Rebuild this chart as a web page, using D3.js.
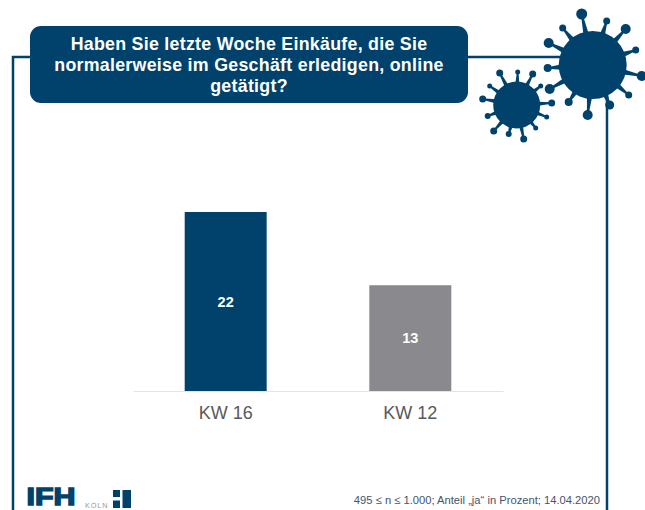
<!DOCTYPE html>
<html>
<head>
<meta charset="utf-8">
<script src="https://cdn.jsdelivr.net/npm/d3@7"></script>
<style>
  html, body { margin: 0; padding: 0; background: #fff; }
  svg { display: block; font-family: "Liberation Sans", Arial, sans-serif; }
</style>
</head>
<body>
<div id="chart"></div>
<script>
// chart values
var weeks = ["KW 16", "KW 12"];
var shares = [22, 13];
var barColors = ["#00426b", "#8a8a8e"];
var titleLines = [
  "Haben Sie letzte Woche Einkäufe, die Sie",
  "normalerweise im Geschäft erledigen, online",
  "getätigt?"
];
var footnote = "495 ≤ n ≤ 1.000; Anteil „ja“ in Prozent; 14.04.2020";

// virus spikes: dx, dy, blob radius
var bigSpikes = [[-11,-51,5.5],[14,-44,3.5],[33,-36,5],[43,-15,3.5],[49,11,5],[36,30,3.5],[17,40,4.5],
  [-5,50,5],[-24,37,4],[-43,24,5],[-45,3,4],[-44,-22,5],[-30,-37,3.5]];
var smallSpikes = [[-17,-32,3.5],[1,-33,2.5],[16,-31,3.5],[24,-19,2.5],[35,-2,3.5],[30,12,2.5],[19,23,2.5],
  [7,34,3.5],[-8,29,3],[-23,26,3.5],[-29,11,3],[-34,-6,3.5],[-27,-19,2.5]];

var svgWidth = 645;
var svgHeight = 510;
var navy = "#00426b";

var svg = d3.select("#chart")
  .append("svg")
  .attr("width", svgWidth)
  .attr("height", svgHeight);

// frame around the slide
svg.append("path")
  .attr("d", "M13,510V57H40M460,57H570M607,95V510")
  .attr("fill", "none")
  .attr("stroke", navy)
  .attr("stroke-width", 2.5);

// title box
svg.append("rect")
  .attr("x", 30)
  .attr("y", 26)
  .attr("width", 438)
  .attr("height", 77)
  .attr("rx", 11)
  .attr("fill", navy);

svg.selectAll(".title")
  .data(titleLines)
  .enter()
  .append("text")
  .attr("class", "title")
  .attr("x", 249)
  .attr("y", (d, i) => 50 + i * 21)
  .attr("text-anchor", "middle")
  .attr("fill", "#fff")
  .attr("font-weight", "bold")
  .attr("font-size", 17.8)
  .attr("letter-spacing", 0.28)
  .text(d => d);

// tapered spike from the body out to its tip
function spikePath(d, r, baseWidth) {
  var len = Math.hypot(d[0], d[1]);
  var ux = d[0] / len;
  var uy = d[1] / len;
  var bx = ux * (r - 2);
  var by = uy * (r - 2);
  return `M${bx - uy * baseWidth},${by + ux * baseWidth}` +
    `L${d[0] - uy * 0.8},${d[1] + ux * 0.8}` +
    `L${d[0] + uy * 0.8},${d[1] - ux * 0.8}` +
    `L${bx + uy * baseWidth},${by - ux * baseWidth}Z`;
}

// viruses
function drawVirus(cx, cy, r, spikes, baseWidth) {
  var g = svg.append("g").attr("transform", `translate(${cx}, ${cy})`).attr("fill", navy);
  g.selectAll("path")
    .data(spikes)
    .enter()
    .append("path")
    .attr("d", d => spikePath(d, r, baseWidth));
  g.selectAll(".blob")
    .data(spikes)
    .enter()
    .append("circle")
    .attr("class", "blob")
    .attr("cx", d => d[0])
    .attr("cy", d => d[1])
    .attr("r", d => d[2]);
  g.append("circle").attr("r", r);
}
drawVirus(592.7, 65, 34, bigSpikes, 2.6);
drawVirus(516.7, 105, 23.5, smallSpikes, 2);

// scales
var xScale = d3.scaleBand()
  .domain(weeks)
  .range([133, 503])
  .paddingInner(0.556)
  .paddingOuter(0.28);

var yScale = d3.scaleLinear()
  .domain([0, 22])
  .range([391, 212]);

// axis
var bottomAxis = d3.axisBottom(xScale).tickSize(0).tickPadding(15);
var axisGroup = svg.append("g")
  .attr("transform", "translate(0, 391)")
  .call(bottomAxis);
axisGroup.select(".domain").attr("stroke", "#e4e4e4").attr("stroke-width", 1.2);
axisGroup.selectAll("text")
  .attr("fill", "#595959")
  .attr("font-family", "Liberation Sans, Arial, sans-serif")
  .attr("font-size", 18);

// bars
svg.selectAll(".bar")
  .data(shares)
  .enter()
  .append("rect")
  .attr("class", "bar")
  .attr("x", (d, i) => xScale(weeks[i]))
  .attr("y", d => yScale(d))
  .attr("width", xScale.bandwidth())
  .attr("height", d => yScale(0) - yScale(d))
  .attr("fill", (d, i) => barColors[i]);

svg.selectAll(".value")
  .data(shares)
  .enter()
  .append("text")
  .attr("class", "value")
  .attr("x", (d, i) => xScale(weeks[i]) + xScale.bandwidth() / 2)
  .attr("y", d => (yScale(d) + yScale(0)) / 2 + 5)
  .attr("text-anchor", "middle")
  .attr("fill", "#fff")
  .attr("font-weight", "bold")
  .attr("font-size", 14.5)
  .text(d => d);

// footnote
svg.append("text")
  .attr("x", 600)
  .attr("y", 504)
  .attr("text-anchor", "end")
  .attr("fill", "#44546a")
  .attr("font-size", 11.2)
  .text(footnote);

// IFH logo, baseline kept high enough that the text box stays inside the page
svg.append("text")
  .attr("x", 26.5)
  .attr("y", 505)
  .attr("font-weight", "bold")
  .attr("font-size", 24)
  .attr("textLength", 49)
  .attr("lengthAdjust", "spacingAndGlyphs")
  .attr("fill", navy)
  .attr("stroke", navy)
  .attr("stroke-width", 1.4)
  .text("IFH");

svg.append("text")
  .attr("x", 85)
  .attr("y", 507.7)
  .attr("font-size", 7.3)
  .attr("letter-spacing", 0.9)
  .attr("fill", "#9a9a9e")
  .text("KÖLN");

var logoBlocks = svg.append("g").attr("fill", navy);
logoBlocks.append("rect").attr("x", 113).attr("y", 490).attr("width", 7).attr("height", 7);
logoBlocks.append("rect").attr("x", 113).attr("y", 500.5).attr("width", 7).attr("height", 7.5);
logoBlocks.append("rect").attr("x", 122.5).attr("y", 490).attr("width", 8.5).attr("height", 18);
</script>
</body>
</html>
